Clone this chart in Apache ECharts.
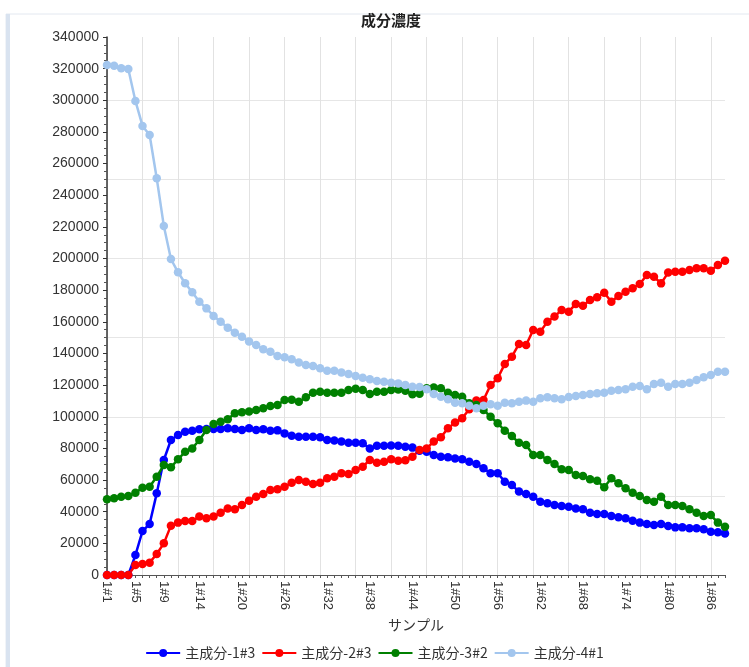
<!DOCTYPE html>
<html>
<head>
<meta charset="utf-8">
<title>成分濃度</title>
<script src="https://cdn.jsdelivr.net/npm/echarts@6/dist/echarts.min.js"></script>
<style>
  html, body { margin: 0; padding: 0; background: #ffffff; }
  #chart { width: 749px; height: 667px; }
</style>
</head>
<body>
<div id="chart"></div>
<script>
// Sample names 1#1 .. 1#88
const categories = Array.from({ length: 88 }, (_, i) => '1#' + (i + 1));

// Category positions that carry a tick label
const labelIndices = [0, 4, 8, 13, 19, 25, 31, 37, 43, 49, 55, 61, 67, 73, 79, 85];

const seriesNames = ['主成分-1#3', '主成分-2#3', '主成分-3#2', '主成分-4#1'];

const comp1 = [
  0, 0, 0, 0, 12600, 27800, 32200, 51600, 72700, 85300,
  88500, 90600, 91200, 92100, 92300, 92300, 92300, 92700, 92300, 91600,
  92700, 91600, 92100, 91200, 91400, 89500, 88000, 87400, 87400, 87400,
  87000, 85300, 85000, 84300, 83600, 83600, 83200, 80000, 81700, 81700,
  81900, 81700, 81100, 80500, 78600, 77900, 75800, 74800, 74400, 73700,
  73100, 71600, 70200, 67400, 64300, 64300, 59000, 56900, 52700, 51200,
  49500, 46300, 45300, 44200, 43600, 43200, 42100, 41500, 39400, 38600,
  38600, 37300, 36500, 35800, 34300, 33100, 32200, 31600, 32200, 31000,
  30100, 30100, 29500, 29500, 28900, 27400, 27000, 26300
];

const comp2 = [
  0, 0, 0, 0, 6300, 7000, 7800, 13300, 20000, 31200,
  33100, 34100, 34100, 36900, 35800, 36900, 39400, 42100, 41500, 44200,
  47000, 49500, 51200, 53700, 54200, 55800, 58300, 60000, 59000, 57500,
  58300, 61100, 62100, 64300, 63800, 66400, 68400, 72700, 71000, 71600,
  73100, 72200, 72500, 74800, 79000, 80000, 84300, 87000, 92700, 96300,
  99000, 104700, 110200, 110600, 120100, 124300, 133400, 138000, 146000, 145400,
  154800, 153800, 160100, 163300, 167500, 166400, 171300, 170200, 173800, 175500,
  178400, 172700, 176300, 179000, 181200, 183900, 189600, 188500, 184300, 191100,
  191700, 191700, 192800, 193800, 193800, 192300, 195900, 198600
];

const comp3 = [
  47800, 48500, 49500, 49900, 52000, 55200, 55800, 62100, 69500, 68100,
  73100, 77900, 80000, 85300, 91600, 95400, 96900, 98400, 102200, 102800,
  103400, 104300, 105400, 106800, 107400, 110600, 110800, 109500, 112300, 115200,
  115800, 115200, 115200, 115200, 116900, 117700, 116900, 114400, 115800, 115800,
  116900, 117300, 116500, 114200, 114600, 118000, 118500, 118000, 115200, 113800,
  112700, 108500, 107400, 104300, 100000, 95900, 91200, 87800, 83600, 82200,
  75800, 75800, 72700, 70200, 66800, 66400, 63200, 62600, 60500, 59600,
  55400, 61100, 58000, 54800, 52000, 49900, 47400, 46300, 49500, 44200,
  44200, 43600, 41500, 39400, 37300, 37900, 33100, 30500
];

const comp4 = [
  322300, 321900, 320200, 319800, 299600, 283800, 278100, 250700, 220600, 199700,
  191300, 184400, 178700, 172700, 168500, 163700, 160100, 156300, 153100, 150600,
  147500, 145400, 142600, 141100, 138400, 137600, 136300, 134300, 132700, 132100,
  130600, 129100, 129100, 127900, 127000, 125800, 124700, 123700, 122600, 122200,
  121500, 121100, 120100, 119000, 118800, 117400, 114400, 112700, 111000, 108900,
  108500, 107000, 105400, 107000, 107900, 107000, 108900, 108500, 109500, 110200,
  109500, 111700, 112300, 111700, 111000, 112500, 113100, 113800, 114400, 114800,
  115200, 116500, 116900, 117400, 119000, 119400, 117400, 120700, 121500, 119000,
  120700, 120700, 121500, 123200, 125000, 126400, 128500, 128500
];

const seriesData = [comp1, comp2, comp3, comp4];
const seriesColors = ['#0000ff', '#ff0000', '#008000', '#a3c6ee'];

const numFont = 'Arial, "Liberation Sans", "Noto Sans CJK JP", sans-serif';
const cjkFont = '"Noto Sans CJK JP", "Noto Sans", sans-serif';

const chart = echarts.init(document.getElementById('chart'), null, { renderer: 'canvas' });

const option = {
  backgroundColor: '#ffffff',
  animation: false,
  graphic: [
    {
      type: 'rect',
      shape: { x: 6, y: 14, width: 760, height: 680 },
      style: { fill: 'none', stroke: '#e3e8f0', lineWidth: 1 },
      silent: true
    },
    {
      type: 'rect',
      shape: { x: 6, y: 14, width: 4, height: 680 },
      style: { fill: '#d9e3f0' },
      silent: true
    }
  ],
  title: {
    text: '成分濃度',
    left: 386,
    top: 8,
    textAlign: 'center',
    textStyle: { fontFamily: cjkFont, fontSize: 15, fontWeight: 'bold', color: '#222' }
  },
  legend: {
    bottom: 2,
    left: 'center',
    padding: [5, 5, 5, 35],
    itemGap: 6,
    itemWidth: 34,
    itemHeight: 10,
    textStyle: { fontFamily: cjkFont, fontSize: 14, color: '#333' },
    data: seriesNames
  },
  grid: { left: 107, right: 24, top: 37, bottom: 92, containLabel: false },
  xAxis: {
    type: 'category',
    data: categories,
    boundaryGap: false,
    name: 'サンプル',
    nameLocation: 'middle',
    nameGap: 38,
    nameTextStyle: { fontFamily: cjkFont, fontSize: 14, color: '#333' },
    axisLine: { lineStyle: { color: '#555', width: 1 } },
    axisTick: { show: true, interval: 0, length: 3, lineStyle: { color: '#555' } },
    axisLabel: {
      interval: (index) => labelIndices.includes(index),
      rotate: -90,
      margin: 6,
      fontFamily: numFont,
      fontSize: 13,
      color: '#333'
    },
    splitLine: {
      show: true,
      interval: (index) => index % 5 === 0,
      lineStyle: { color: '#e2e2e2', width: 1 }
    }
  },
  yAxis: [
    {
      type: 'value',
      min: 0,
      max: 340000,
      interval: 20000,
      axisLine: { show: true, lineStyle: { color: '#333', width: 1.5 } },
      axisTick: { show: true, length: 4, lineStyle: { color: '#333' } },
      minorTick: { show: true, splitNumber: 4, length: 3, lineStyle: { color: '#555' } },
      axisLabel: {
        margin: 8,
        fontFamily: numFont,
        fontSize: 14,
        color: '#333',
        formatter: (v) => String(v)
      },
      splitLine: { show: false }
    },
    {
      // Background grid lines every 50000
      type: 'value',
      min: 0,
      max: 340000,
      interval: 50000,
      position: 'left',
      axisLine: { show: false },
      axisTick: { show: false },
      axisLabel: { show: false },
      splitLine: { show: true, showMaxLine: false, lineStyle: { color: '#e6e6e6', width: 1 } }
    }
  ],
  series: seriesNames.map((name, i) => ({
    name: name,
    type: 'line',
    yAxisIndex: 0,
    data: seriesData[i],
    symbol: 'circle',
    symbolSize: 8.5,
    showAllSymbol: true,
    itemStyle: { color: seriesColors[i] },
    lineStyle: { color: seriesColors[i], width: 2.5 }
  }))
};

chart.setOption(option);
</script>
</body>
</html>
